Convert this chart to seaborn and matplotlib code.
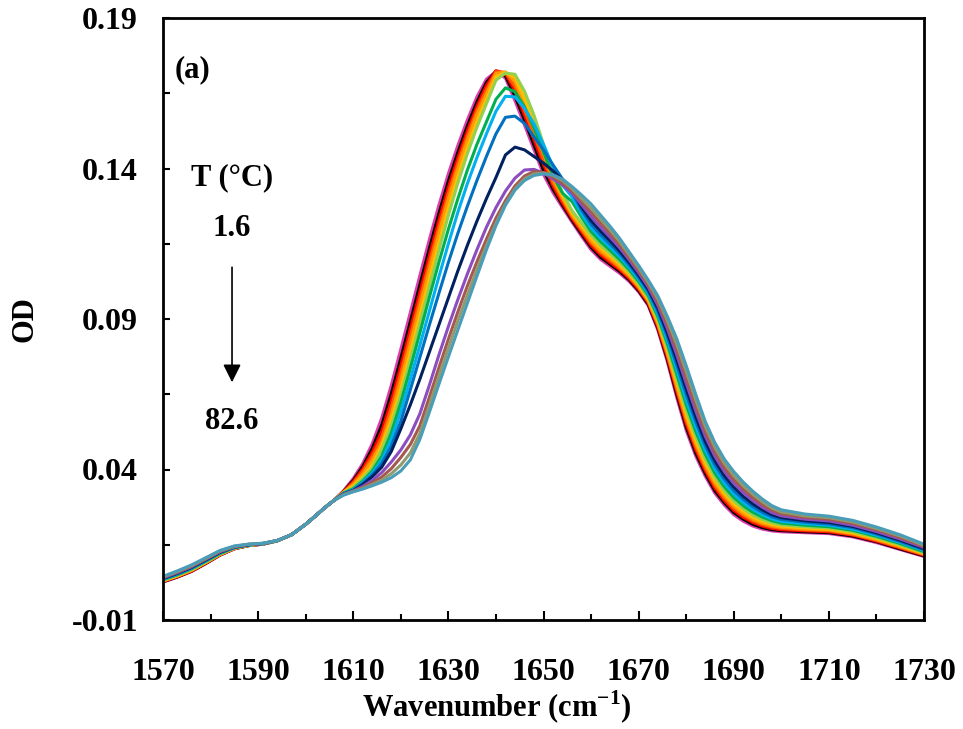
import numpy as np
import pandas as pd
import matplotlib
matplotlib.use("Agg")
import matplotlib.pyplot as plt
from matplotlib.ticker import FormatStrFormatter, MultipleLocator
import seaborn as sns

# ---------------- data ----------------
wavenumber = ([1570, 1573, 1576, 1579, 1582, 1585, 1588, 1591, 1594, 1597, 1600]
              + list(range(1602, 1699, 2))
              + [1700, 1705, 1710, 1715, 1720, 1725, 1730])

od_01 = [.0026, .0042, .0061, .0087, .0115, .0136, .0147, .0152, .0163, .0183, .0218,
         .0245, .0273, .0298,
         .0330, .0370, .0420, .0486, .0572, .0680, .0800, .0922, .1044, .1164, .1278, .1383,
         .1477, .1562, .1638, .1697, .1722, .1700, .1625, .1545, .1462, .1380, .1320, .1270,
         .1222, .1175, .1130, .1098, .1075, .1052, .1025, .0990, .0945, .0865, .0760,
         .0640, .0530, .0445, .0378, .0322, .0282, .0250, .0228, .0212, .0202, .0196,
         .0193, .0190, .0187, .0176, .0157, .0134, .0111]
od_02 = [.0027, .0043, .0062, .0088, .0116, .0137, .0147, .0152, .0163, .0183, .0218,
         .0245, .0273, .0298,
         .0328, .0364, .0410, .0470, .0548, .0652, .0769, .0891, .1013, .1134, .1250, .1358,
         .1454, .1542, .1621, .1686, .1723, .1708, .1641, .1561, .1478, .1394, .1331, .1278,
         .1228, .1182, .1138, .1105, .1082, .1058, .1030, .0994, .0949, .0871, .0768,
         .0650, .0541, .0455, .0387, .0330, .0290, .0257, .0235, .0218, .0207, .0200,
         .0197, .0193, .0190, .0179, .0160, .0136, .0113]
od_03 = [.0028, .0044, .0063, .0089, .0117, .0137, .0148, .0152, .0163, .0183, .0218,
         .0245, .0273, .0298,
         .0327, .0360, .0402, .0457, .0528, .0629, .0745, .0867, .0989, .1111, .1228, .1338,
         .1436, .1526, .1607, .1676, .1725, .1716, .1657, .1577, .1495, .1413, .1342, .1285,
         .1234, .1189, .1145, .1113, .1088, .1064, .1035, .0999, .0954, .0876, .0775,
         .0660, .0552, .0466, .0396, .0339, .0297, .0264, .0241, .0224, .0212, .0204,
         .0200, .0196, .0193, .0182, .0162, .0139, .0115]
od_04 = [.0029, .0045, .0064, .0090, .0117, .0138, .0148, .0152, .0163, .0183, .0218,
         .0245, .0273, .0298,
         .0326, .0355, .0394, .0444, .0508, .0606, .0721, .0843, .0965, .1087, .1206, .1318,
         .1418, .1510, .1594, .1662, .1722, .1719, .1672, .1593, .1512, .1429, .1352, .1295,
         .1240, .1196, .1153, .1120, .1095, .1069, .1040, .1003, .0958, .0882, .0783,
         .0669, .0562, .0476, .0405, .0347, .0305, .0271, .0248, .0229, .0217, .0209,
         .0204, .0199, .0196, .0184, .0165, .0141, .0117]
od_05 = [.0030, .0046, .0065, .0091, .0118, .0138, .0148, .0153, .0163, .0183, .0218,
         .0245, .0273, .0298,
         .0325, .0350, .0385, .0431, .0489, .0583, .0696, .0818, .0940, .1064, .1184, .1298,
         .1400, .1494, .1580, .1647, .1716, .1721, .1690, .1613, .1533, .1450, .1365, .1302,
         .1246, .1202, .1160, .1127, .1102, .1075, .1045, .1008, .0962, .0888, .0790,
         .0679, .0573, .0486, .0414, .0356, .0313, .0279, .0254, .0235, .0222, .0213,
         .0208, .0202, .0199, .0187, .0167, .0144, .0119]
od_06 = [.0031, .0047, .0067, .0092, .0119, .0139, .0148, .0153, .0163, .0183, .0218,
         .0245, .0273, .0298,
         .0324, .0345, .0375, .0415, .0479, .0563, .0668, .0788, .0910, .1032, .1152, .1267,
         .1373, .1468, .1554, .1630, .1705, .1719, .1703, .1633, .1553, .1470, .1380, .1310,
         .1253, .1211, .1170, .1136, .1110, .1082, .1050, .1013, .0967, .0894, .0799,
         .0691, .0586, .0498, .0425, .0366, .0322, .0287, .0262, .0242, .0228, .0218,
         .0212, .0206, .0202, .0190, .0171, .0147, .0122]
od_07 = [.0032, .0049, .0068, .0093, .0120, .0139, .0149, .0153, .0163, .0183, .0218,
         .0245, .0273, .0298,
         .0323, .0340, .0370, .0405, .0466, .0546, .0648, .0764, .0885, .1007, .1128, .1244,
         .1352, .1449, .1537, .1615, .1693, .1717, .1713, .1657, .1577, .1480, .1395, .1320,
         .1260, .1219, .1179, .1145, .1118, .1089, .1056, .1018, .0972, .0901, .0808,
         .0702, .0599, .0511, .0436, .0376, .0331, .0296, .0270, .0249, .0234, .0223,
         .0216, .0210, .0206, .0194, .0174, .0150, .0124]
od_08 = [.0034, .0050, .0070, .0095, .0121, .0140, .0149, .0153, .0163, .0183, .0218,
         .0245, .0273, .0298,
         .0322, .0336, .0362, .0395, .0445, .0522, .0622, .0736, .0853, .0972, .1088, .1198,
         .1300, .1395, .1480, .1555, .1630, .1668, .1655, .1605, .1535, .1455, .1375, .1318,
         .1290, .1238, .1191, .1157, .1128, .1098, .1064, .1025, .0979, .0910, .0820,
         .0718, .0616, .0527, .0451, .0389, .0343, .0307, .0280, .0258, .0242, .0230,
         .0222, .0215, .0210, .0198, .0178, .0154, .0127]
od_09 = [.0035, .0052, .0072, .0097, .0123, .0141, .0149, .0153, .0163, .0183, .0218,
         .0245, .0273, .0298,
         .0321, .0333, .0358, .0388, .0430, .0500, .0592, .0700, .0812, .0926, .1040, .1150,
         .1255, .1350, .1436, .1515, .1590, .1640, .1638, .1600, .1548, .1480, .1405, .1345,
         .1305, .1250, .1203, .1169, .1139, .1108, .1072, .1032, .0986, .0919, .0832,
         .0734, .0633, .0543, .0465, .0403, .0355, .0319, .0290, .0268, .0250, .0236,
         .0228, .0220, .0215, .0202, .0182, .0158, .0131]
od_10 = [.0037, .0054, .0073, .0098, .0124, .0142, .0150, .0154, .0164, .0183, .0218,
         .0245, .0273, .0298,
         .0320, .0331, .0354, .0382, .0420, .0478, .0560, .0665, .0772, .0880, .0985, .1088,
         .1185, .1275, .1360, .1440, .1515, .1570, .1574, .1550, .1505, .1462, .1412, .1365,
         .1322, .1262, .1215, .1180, .1149, .1117, .1080, .1039, .0993, .0928, .0844,
         .0749, .0650, .0560, .0480, .0416, .0368, .0330, .0301, .0277, .0258, .0243,
         .0234, .0225, .0219, .0207, .0186, .0161, .0134]
od_11 = [.0038, .0055, .0075, .0100, .0125, .0142, .0150, .0154, .0164, .0183, .0218,
         .0245, .0273, .0298,
         .0319, .0330, .0350, .0376, .0408, .0460, .0535, .0615, .0700, .0790, .0880, .0970,
         .1060, .1145, .1225, .1300, .1370, .1445, .1471, .1462, .1440, .1418, .1392, .1362,
         .1328, .1272, .1227, .1192, .1160, .1126, .1088, .1046, .0999, .0937, .0856,
         .0765, .0668, .0576, .0494, .0430, .0380, .0342, .0311, .0286, .0266, .0250,
         .0240, .0230, .0224, .0211, .0190, .0165, .0137]
od_12 = [.0040, .0057, .0077, .0102, .0127, .0143, .0151, .0154, .0164, .0183, .0218,
         .0245, .0273, .0298,
         .0318, .0329, .0344, .0364, .0390, .0425, .0465, .0515, .0585, .0680, .0780, .0875,
         .0965, .1050, .1130, .1205, .1270, .1325, .1368, .1395, .1397, .1385, .1365, .1345,
         .1318, .1280, .1241, .1205, .1172, .1137, .1097, .1054, .1007, .0947, .0870,
         .0782, .0687, .0595, .0511, .0445, .0394, .0354, .0323, .0297, .0275, .0257,
         .0246, .0235, .0229, .0215, .0194, .0169, .0141]
od_13 = [.0042, .0059, .0079, .0103, .0128, .0144, .0151, .0154, .0164, .0183, .0218,
         .0245, .0273, .0298,
         .0317, .0328, .0340, .0356, .0375, .0403, .0440, .0483, .0545, .0640, .0738, .0833,
         .0924, .1010, .1090, .1165, .1235, .1293, .1342, .1375, .1390, .1387, .1372, .1352,
         .1325, .1290, .1255, .1219, .1184, .1147, .1105, .1062, .1015, .0958, .0883,
         .0800, .0706, .0613, .0527, .0460, .0407, .0367, .0335, .0307, .0284, .0265,
         .0253, .0241, .0235, .0221, .0200, .0174, .0145]
od_14 = [.0043, .0061, .0081, .0105, .0130, .0145, .0152, .0155, .0164, .0183, .0218,
         .0245, .0273, .0298,
         .0316, .0327, .0337, .0350, .0365, .0386, .0415, .0455, .0520, .0612, .0710, .0803,
         .0894, .0980, .1064, .1144, .1218, .1282, .1332, .1366, .1382, .1385, .1377, .1360,
         .1333, .1300, .1268, .1232, .1196, .1158, .1114, .1070, .1022, .0968, .0897,
         .0817, .0726, .0632, .0544, .0475, .0421, .0380, .0346, .0318, .0293, .0272,
         .0259, .0246, .0240, .0226, .0204, .0179, .0148]
od_15 = [.0045, .0063, .0083, .0107, .0131, .0146, .0152, .0155, .0164, .0183, .0218,
         .0245, .0273, .0298,
         .0315, .0326, .0335, .0346, .0358, .0373, .0395, .0432, .0500, .0590, .0683, .0774,
         .0864, .0953, .1042, .1130, .1210, .1278, .1328, .1360, .1377, .1382, .1379, .1365,
         .1340, .1312, .1282, .1245, .1208, .1168, .1123, .1078, .1030, .0978, .0910,
         .0835, .0745, .0650, .0560, .0490, .0435, .0393, .0358, .0328, .0302, .0280,
         .0266, .0252, .0245, .0231, .0209, .0183, .0152]

series_names = ["s01", "s02", "s03", "s04", "s05", "s06", "s07", "s08",
                "s09", "s10", "s11", "s12", "s13", "s14", "s15"]
series_values = [od_01, od_02, od_03, od_04, od_05, od_06, od_07, od_08,
                 od_09, od_10, od_11, od_12, od_13, od_14, od_15]
series_colors = ["#E03CB0", "#000000", "#FF0000", "#FF5A00", "#FF9A00",
                 "#FFC000", "#92D050", "#00B050", "#00B0F0", "#0070C0",
                 "#002060", "#8B4DBF", "#A4584F", "#8F9A6E", "#4A9DB8"]

x_ticks = [1570, 1590, 1610, 1630, 1650, 1670, 1690, 1710, 1730]
y_ticks = [-0.01, 0.04, 0.09, 0.14, 0.19]
y_minor = [0.015, 0.065, 0.115, 0.165]

# ---------------- build long table ----------------
frames = []
for name, vals in zip(series_names, series_values):
    frames.append(pd.DataFrame({"wn": wavenumber, "od": vals, "series": name}))
df = pd.concat(frames, ignore_index=True)

# ---------------- style ----------------
sns.set_theme(style="white")
plt.rcParams["font.family"] = ["Liberation Serif", "DejaVu Serif"]
plt.rcParams["font.weight"] = "bold"
plt.rcParams["axes.unicode_minus"] = False
plt.rcParams["mathtext.fontset"] = "custom"
plt.rcParams["mathtext.rm"] = "Liberation Serif:bold"
plt.rcParams["mathtext.bf"] = "Liberation Serif:bold"

fig = plt.figure(figsize=(9.63, 7.29), dpi=100)
ax = fig.add_axes([163 / 963, 1 - 620 / 729, 761 / 963, 602 / 729])

sns.lineplot(data=df, x="wn", y="od", hue="series",
             palette=dict(zip(series_names, series_colors)),
             estimator=None, sort=False, legend=False,
             linewidth=2.2, ax=ax)
for ln in ax.get_lines():
    ln.set_solid_joinstyle("round")
    ln.set_solid_capstyle("round")

ax.set_xlim(1570, 1730)
ax.set_ylim(-0.01, 0.19)
ax.set_xticks(x_ticks)
ax.xaxis.set_minor_locator(MultipleLocator(10))
ax.set_yticks(y_ticks)
ax.set_yticks(y_minor, minor=True)
ax.yaxis.set_major_formatter(FormatStrFormatter("%.2f"))

for sp in ax.spines.values():
    sp.set_visible(True)
    sp.set_color("black")
    sp.set_linewidth(2.0)

ax.tick_params(axis="x", which="major", direction="in", length=6.5, width=1.5,
               labelsize=23, pad=27, colors="black", bottom=True, top=False)
ax.tick_params(axis="x", which="minor", direction="in", length=4.3, width=1.5,
               bottom=True, top=False, colors="black")
ax.tick_params(axis="y", which="major", direction="in", length=5, width=1.5,
               labelsize=23, pad=18, colors="black", left=True, right=False)
ax.tick_params(axis="y", which="minor", direction="in", length=5, width=1.5,
               left=True, right=False, colors="black")
for lab in ax.get_xticklabels() + ax.get_yticklabels():
    lab.set_fontweight("bold")

ax.set_xlabel(r"Wavenumber (cm$^{\mathbf{-1}}$)", fontsize=22, fontweight="bold", color="black")
ax.xaxis.set_label_coords(0.439, -0.115)
ax.set_ylabel("OD", fontsize=22, fontweight="bold", color="black")
ax.yaxis.set_label_coords(-0.162, 0.5)

txt = dict(transform=ax.transAxes, fontsize=22, fontweight="bold", color="black")
ax.text(0.015, 0.914, "(a)", ha="left", va="center", **txt)
ax.text(0.0907, 0.734, "T (°C)", ha="center", va="center", **txt)
ax.text(0.0907, 0.651, "1.6", ha="center", va="center", **txt)
ax.text(0.0907, 0.329, "82.6", ha="center", va="center", **txt)
ax.annotate("", xy=(0.0907, 0.395), xytext=(0.0907, 0.586),
            xycoords="axes fraction", textcoords="axes fraction",
            arrowprops=dict(arrowstyle="-|>", color="black", lw=1.2,
                            mutation_scale=27, shrinkA=0, shrinkB=0))

fig.savefig("out.png", dpi=100)
